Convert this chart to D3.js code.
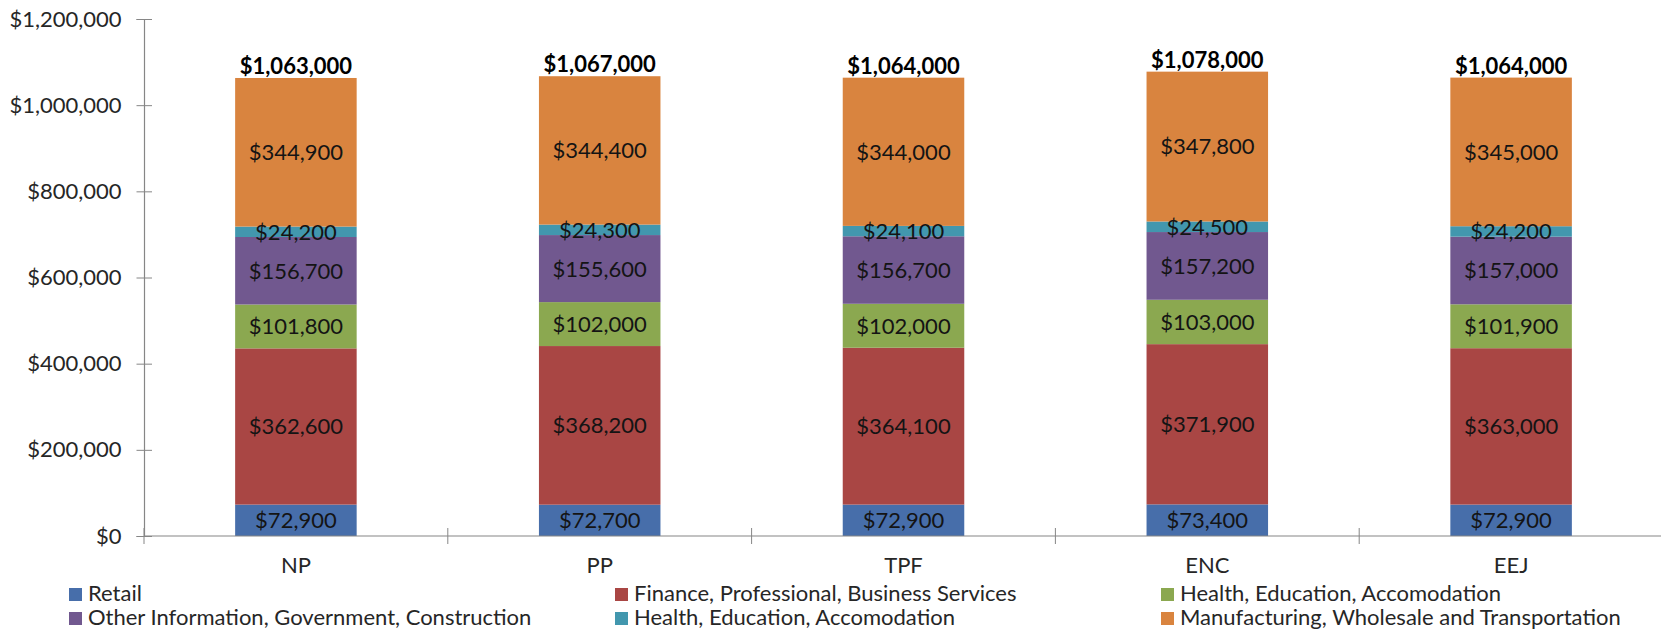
<!DOCTYPE html>
<html>
<head>
<meta charset="utf-8">
<script src="https://cdn.jsdelivr.net/npm/d3@7"></script>
<style>
  body { margin: 0; background: #fff; }
  svg text { font-family: Lato, "Open Sans", sans-serif; }
</style>
</head>
<body>
<div id="chart"></div>
<script>
// data
let categories = ["NP", "PP", "TPF", "ENC", "EEJ"];
let seriesNames = ["Retail", "Finance, Professional, Business Services", "Health, Education, Accomodation",
  "Other Information, Government, Construction", "Health, Education, Accomodation",
  "Manufacturing, Wholesale and Transportation"];
let retail = [72900, 72700, 72900, 73400, 72900];
let finance = [362600, 368200, 364100, 371900, 363000];
let healthGreen = [101800, 102000, 102000, 103000, 101900];
let otherInfo = [156700, 155600, 156700, 157200, 157000];
let healthTeal = [24200, 24300, 24100, 24500, 24200];
let manufacturing = [344900, 344400, 344000, 347800, 345000];
let totals = [1063000, 1067000, 1064000, 1078000, 1064000];
let yTicks = [0, 200000, 400000, 600000, 800000, 1000000, 1200000];

let colors = ["#476EAA", "#A94644", "#8BA850", "#71588F", "#4297AE", "#D9843F"];

let width = 1661, height = 634;
let x0 = 144, x1 = 1663, yBottom = 536, yTop = 19;
let fs = "22px";

let allSeries = [retail, finance, healthGreen, otherInfo, healthTeal, manufacturing];
let rows = categories.map(function(c, i) {
  let r = {cat: c};
  allSeries.forEach(function(s, k) { r["s" + k] = s[i]; });
  return r;
});
let keys = allSeries.map(function(s, k) { return "s" + k; });
let stacked = d3.stack().keys(keys)(rows);

let x = d3.scaleBand().domain(categories).range([x0, x1]).paddingInner(0.6).paddingOuter(0.3);
let y = d3.scaleLinear().domain([0, 1200000]).range([yBottom, yTop]);
let fmt = d3.format("$,");

let svg = d3.select("#chart").append("svg")
  .attr("width", width).attr("height", height);

// bars
let layer = svg.append("g").selectAll("g").data(stacked).enter().append("g")
  .attr("fill", function(d, i) { return colors[i]; });

layer.selectAll("rect").data(function(d) { return d; }).enter().append("rect")
  .attr("x", function(d) { return x(d.data.cat); })
  .attr("y", function(d) { return y(d[1]); })
  .attr("width", x.bandwidth())
  .attr("height", function(d) { return y(d[0]) - y(d[1]); });

// segment labels
let labels = svg.append("g");
stacked.forEach(function(s, k) {
  labels.selectAll(null).data(s).enter().append("text")
    .attr("x", function(d) { return x(d.data.cat) + x.bandwidth() / 2; })
    .attr("y", function(d) { return (y(d[0]) + y(d[1])) / 2; })
    .attr("dy", "0.36em")
    .attr("text-anchor", "middle")
    .style("font-size", fs).style("fill", "#141414")
    .text(function(d) { return fmt(d.data["s" + k]); });
});

// total labels
let topLayer = stacked[stacked.length - 1];
svg.append("g").selectAll("text").data(topLayer).enter().append("text")
  .attr("x", function(d) { return x(d.data.cat) + x.bandwidth() / 2; })
  .attr("y", function(d) { return y(d[1]) - 4; })
  .attr("text-anchor", "middle")
  .style("font-size", fs).style("font-weight", "bold").style("fill", "#000")
  .text(function(d, i) { return fmt(totals[i]); });

// y axis
let yAxis = svg.append("g").attr("transform", "translate(" + x0 + ",0)")
  .call(d3.axisLeft(y).tickValues(yTicks).tickFormat(fmt).tickSizeOuter(0).tickSize(7.5).tickPadding(15));
yAxis.select(".domain").attr("stroke", "#868686").attr("stroke-width", 1.2);
yAxis.selectAll(".tick line").attr("stroke", "#868686").attr("x2", 8).attr("x1", -7.5);
yAxis.selectAll("text").style("font-size", fs).style("fill", "#262626")
  .style("font-family", "Lato, sans-serif");

// x axis with category boundary ticks
let xAxis = svg.append("g").attr("transform", "translate(0," + yBottom + ")");
xAxis.append("line").attr("x1", x0).attr("x2", x1).attr("stroke", "#868686").attr("stroke-width", 1.2);
let bounds = d3.range(categories.length + 1).map(function(i) { return x0 + i * x.step(); });
xAxis.selectAll("line.b").data(bounds).enter().append("line").attr("class", "b")
  .attr("x1", function(d) { return d; }).attr("x2", function(d) { return d; })
  .attr("y1", -8).attr("y2", 8).attr("stroke", "#868686");
xAxis.selectAll("text").data(categories).enter().append("text")
  .attr("x", function(d) { return x(d) + x.bandwidth() / 2; })
  .attr("y", 37).attr("text-anchor", "middle")
  .style("font-size", fs).style("fill", "#262626")
  .text(function(d) { return d; });

// legend, 3 columns x 2 rows
let legX = [69, 615, 1161], legY = [588, 612];
let leg = svg.append("g").selectAll("g").data(seriesNames).enter().append("g")
  .attr("transform", function(d, i) { return "translate(" + legX[i % 3] + "," + legY[Math.floor(i / 3)] + ")"; });
leg.append("rect").attr("width", 13).attr("height", 13)
  .attr("fill", function(d, i) { return colors[i]; });
leg.append("text").attr("x", 19).attr("y", 13)
  .style("font-size", fs).style("fill", "#262626")
  .text(function(d) { return d; });
</script>
</body>
</html>
